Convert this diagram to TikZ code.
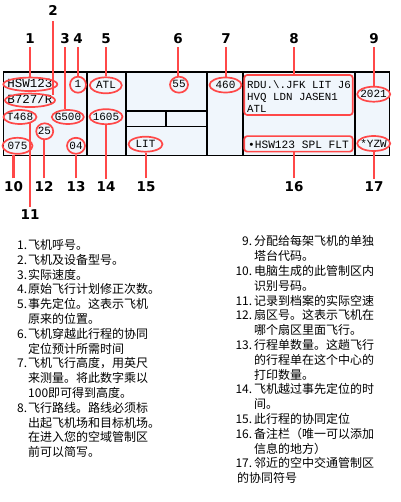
\documentclass[tikz,border=0pt]{standalone}
\usepackage{fontspec}
\setmonofont{Liberation Mono}
\newfontfamily\labfont{DejaVu Sans}
\newfontfamily\cjk{Noto Sans CJK SC}
\usetikzlibrary{shapes.geometric}
\definecolor{mark}{RGB}{255,72,72}
\definecolor{cell}{RGB}{240,246,252}
\begin{document}
\begin{tikzpicture}[x=1pt,y=-1pt,
  fld/.style={font=\ttfamily\fontsize{11}{12}\selectfont, inner sep=0pt, text height=6.8pt, text depth=0pt},
  bigfld/.style={font=\ttfamily\fontsize{12.5}{13}\selectfont, inner sep=0pt, text height=7.8pt, text depth=0pt},
  ring/.style={ellipse, draw=mark, line width=1.7pt, inner sep=0pt},
  rbox/.style={rectangle, rounded corners=3pt, draw=mark, line width=1.7pt, inner sep=0pt},
  num/.style={font=\labfont\bfseries\fontsize{13.5}{14}\selectfont, inner sep=0pt, outer sep=3pt},
  lead/.style={draw=mark, line width=2.6pt},
  grid/.style={draw=black, line width=1.2pt},
  list/.style={font=\cjk\fontsize{12}{14.8}\selectfont, align=left, inner sep=0pt, anchor=base west}
]
\useasboundingbox (0,0) rectangle (400,502);

% strip
\path[fill=cell] (3.5,72) rectangle (389.5,155.5);
\draw[grid] (3.5,72) rectangle (389.5,155.5);
\draw[grid] (87,72) -- (87,155.5);
\draw[grid] (126,72) -- (126,155.5);
\draw[grid] (207,72) -- (207,155.5);
\draw[grid] (243,72) -- (243,155.5);
\draw[grid] (355,72) -- (355,155.5);
\draw[grid] (126,111) -- (207,111);
\draw[grid] (126,126.5) -- (207,126.5);
\draw[grid] (166,111) -- (166,126.5);

% field texts
\node[bigfld] (t1) at (30,84) {HSW123};
\node[bigfld] (t2) at (30,100) {B727/R};
\node[fld] (t4) at (78,84.5) {1};
\node[fld] (t11) at (20,117) {T468};
\node[fld] (t3) at (68,117) {G500};
\node[fld] (t12) at (44.5,131) {25};
\node[fld] (t10) at (17.5,146) {075};
\node[fld] (t13) at (76,146) {04};
\node[fld] (t5) at (106,85) {ATL};
\node[fld] (t14) at (106,117) {1605};
\node[fld] (t6) at (179,84.5) {55};
\node[fld] (t7) at (225.5,85) {460};
\node[fld] (t15) at (145.5,144.5) {LIT};
\node[fld] (t9) at (373.5,94.5) {2021};
\node[fld] (t17) at (373.5,144) {*YZW};
\node[font=\ttfamily\fontsize{10.8}{12}\selectfont, inner sep=0pt, align=left, anchor=base west] (t8) at (247,112.7) {RDU.\textbackslash.JFK LIT J6\\HVQ LDN JASEN1\\ATL};
\node[fld, font=\ttfamily\fontsize{11.2}{12}\selectfont] (t16) at (298.5,145) {\textbullet HSW123 SPL FLT};

% marks
\node[ring, minimum width=54, minimum height=13.5] (e1) at (30.3,84.3) {};
\node[ring, minimum width=50, minimum height=13.5] (e2) at (30,100.3) {};
\node[ring, minimum width=16, minimum height=16] (e4) at (78,84.7) {};
\node[ring, minimum width=33, minimum height=14] (e11) at (20,117) {};
\node[ring, minimum width=32, minimum height=14] (e3) at (67.8,117) {};
\node[ring, minimum width=17, minimum height=16] (e12) at (44.7,131.3) {};
\node[ring, minimum width=30, minimum height=16] (e10) at (17.5,145.8) {};
\node[ring, minimum width=18, minimum height=16] (e13) at (76,145.8) {};
\node[ring, minimum width=32, minimum height=16] (e5) at (105.8,85.3) {};
\node[ring, minimum width=33, minimum height=15] (e14) at (106,116.7) {};
\node[ring, minimum width=18, minimum height=16] (e6) at (179,84.7) {};
\node[ring, minimum width=32, minimum height=15] (e7) at (225.5,85) {};
\node[ring, minimum width=34, minimum height=15] (e15) at (145.5,144.2) {};
\node[ring, minimum width=33, minimum height=15] (e9) at (373.7,94.2) {};
\node[ring, minimum width=33, minimum height=15] (e17) at (373.7,143.5) {};
\node[rbox, minimum width=108.5, minimum height=40] (e8) at (298.5,95) {};
\node[rbox, minimum width=108.5, minimum height=15.5] (e16) at (298.5,143.9) {};

% number labels
\node[num] (n1) at (30,39) {1};
\node[num, outer sep=6pt] (n2) at (53,10) {2};
\node[num] (n3) at (65,39) {3};
\node[num] (n4) at (78,39) {4};
\node[num] (n5) at (106,39) {5};
\node[num] (n6) at (178,39) {6};
\node[num] (n7) at (226,39) {7};
\node[num] (n8) at (294,39) {8};
\node[num] (n9) at (374,39) {9};
\node[num] (n10) at (13.5,186.5) {10};
\node[num] (n11) at (30,215) {11};
\node[num] (n12) at (44,186.5) {12};
\node[num] (n13) at (76,186.5) {13};
\node[num] (n14) at (106,186.5) {14};
\node[num] (n15) at (146,186.5) {15};
\node[num] (n16) at (294,186.5) {16};
\node[num] (n17) at (374,186.5) {17};

% leaders
\draw[lead] (n1.south) -- (n1.south |- e1.north);
\draw[lead] (n2.south) -- (n2.south |- e2.north east);
\draw[lead] (n3.south) -- (n3.south |- e3.north);
\draw[lead] (n4.south) -- (e4.north);
\draw[lead] (n5.south) -- (n5.south |- e5.north);
\draw[lead] (n6.south) -- (n6.south |- e6.north);
\draw[lead] (n7.south) -- (n7.south |- e7.north);
\draw[lead] (n8.south) -- (n8.south |- e8.north);
\draw[lead] (n9.south) -- (n9.south |- e9.north);
\draw[lead] (n10.north) -- (n10.north |- e10.south);
\draw[lead] (n11.north) -- (n11.north |- e11.south east);
\draw[lead] (n12.north) -- (n12.north |- e12.south);
\draw[lead] (n13.north) -- (n13.north |- e13.south);
\draw[lead] (n14.north) -- (n14.north |- e14.south);
\draw[lead] (n15.north) -- (n15.north |- e15.south);
\draw[lead] (n16.north) -- (n16.north |- e16.south);
\draw[lead] (n17.north) -- (n17.north |- e17.south);

% legend (anchored at the baseline of the last line)
\node[list] (leftlist) at (17,456.6) {%
\makebox[11pt][l]{1.}飞机呼号。\\
\makebox[11pt][l]{2.}飞机及设备型号。\\
\makebox[11pt][l]{3.}实际速度。\\
\makebox[11pt][l]{4.}原始飞行计划修正次数。\\
\makebox[11pt][l]{5.}事先定位。这表示飞机\\
\hspace*{11pt}原来的位置。\\
\makebox[11pt][l]{6.}飞机穿越此行程的协同\\
\hspace*{11pt}定位预计所需时间\\
\makebox[11pt][l]{7.}飞机飞行高度，用英尺\\
\hspace*{11pt}来测量。将此数字乘以\\
\hspace*{11pt}100即可得到高度。\\
\makebox[11pt][l]{8.}飞行路线。路线必须标\\
\hspace*{11pt}出起飞机场和目标机场。\\
\hspace*{11pt}在进入您的空域管制区\\
\hspace*{11pt}前可以简写。};
\node[list] (rightlist) at (237,482.6) {%
\makebox[17pt][r]{9.\,}分配给每架飞机的单独\\
\hspace*{17pt}塔台代码。\\
\makebox[17pt][r]{10.\,}电脑生成的此管制区内\\
\hspace*{17pt}识别号码。\\
\makebox[17pt][r]{11.\,}记录到档案的实际空速\\
\makebox[17pt][r]{12.\,}扇区号。这表示飞机在\\
\hspace*{17pt}哪个扇区里面飞行。\\
\makebox[17pt][r]{13.\,}行程单数量。这趟飞行\\
\hspace*{17pt}的行程单在这个中心的\\
\hspace*{17pt}打印数量。\\
\makebox[17pt][r]{14.\,}飞机越过事先定位的时\\
\hspace*{17pt}间。\\
\makebox[17pt][r]{15.\,}此行程的协同定位\\
\makebox[17pt][r]{16.\,}备注栏（唯一可以添加\\
\hspace*{17pt}信息的地方）\\
\makebox[17pt][r]{17.\,}邻近的空中交通管制区\\
的协同符号};
\end{tikzpicture}
\end{document}
